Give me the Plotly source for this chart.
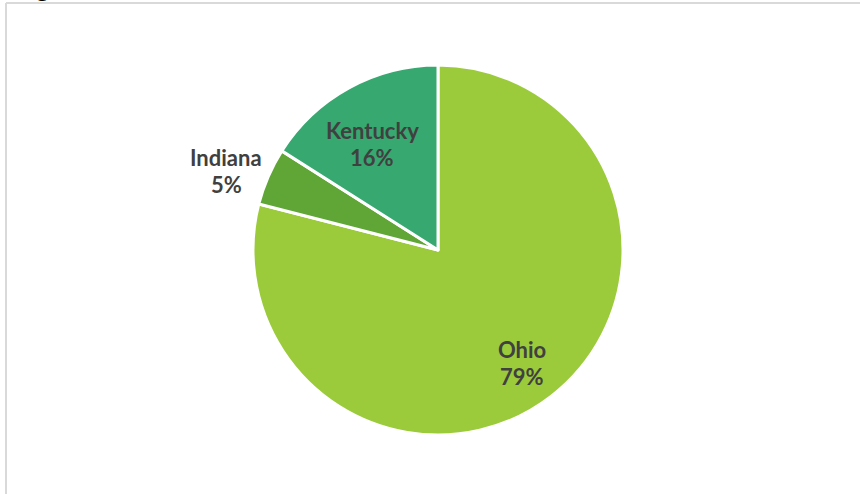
import plotly.graph_objects as go

# Share of total by state
states = ["Ohio", "Indiana", "Kentucky"]
shares = [79, 5, 16]
slice_colors = ["#9BCB3B", "#60A637", "#37A86F"]

W, H = 860, 494
CX, CY, R = 438, 250, 185  # pie centre and radius in pixels

# label centres (pixels from top-left) for each state's name / percentage pair
label_centres = {"Ohio": (522, 363), "Indiana": (226, 171), "Kentucky": (372, 144)}

fig = go.Figure(
    go.Pie(
        labels=states,
        values=shares,
        sort=False,
        direction="clockwise",
        rotation=0,
        textinfo="none",
        hoverinfo="label+percent",
        marker=dict(colors=slice_colors, line=dict(color="white", width=3)),
        domain=dict(
            x=[(CX - R) / W, (CX + R) / W],
            y=[(H - CY - R) / H, (H - CY + R) / H],
        ),
        showlegend=False,
    )
)

font = dict(family="Lato, 'Open Sans', sans-serif", size=22, color="#404040")
annotations = []
for name, val in zip(states, shares):
    px, py = label_centres[name]
    for text, shift in ((f"<b>{name}</b>", 13.5), (f"<b>{val}%</b>", -13.5)):
        annotations.append(
            dict(
                x=px / W, y=1 - py / H, xref="paper", yref="paper",
                text=text, showarrow=False, font=font,
                xanchor="center", yanchor="middle", yshift=shift,
            )
        )

# descender of the heading just above the chart frame
annotations.append(
    dict(
        x=43 / W, y=1, xref="paper", yref="paper", text="<b>g</b>",
        showarrow=False, xanchor="center", yanchor="bottom", yshift=-5,
        font=dict(family="Lato, sans-serif", size=26, color="#000000"),
    )
)

fig.update_layout(
    width=W, height=H,
    margin=dict(l=0, r=0, t=0, b=0),
    paper_bgcolor="white",
    plot_bgcolor="white",
    annotations=annotations,
    shapes=[
        dict(type="line", xref="paper", yref="paper", x0=6 / W, x1=6 / W,
             y0=0, y1=1 - 3 / H, line=dict(color="#D9D9D9", width=2)),
        dict(type="line", xref="paper", yref="paper", x0=6 / W, x1=1,
             y0=1 - 3 / H, y1=1 - 3 / H, line=dict(color="#D9D9D9", width=2)),
    ],
)

fig.write_html("out.html")
